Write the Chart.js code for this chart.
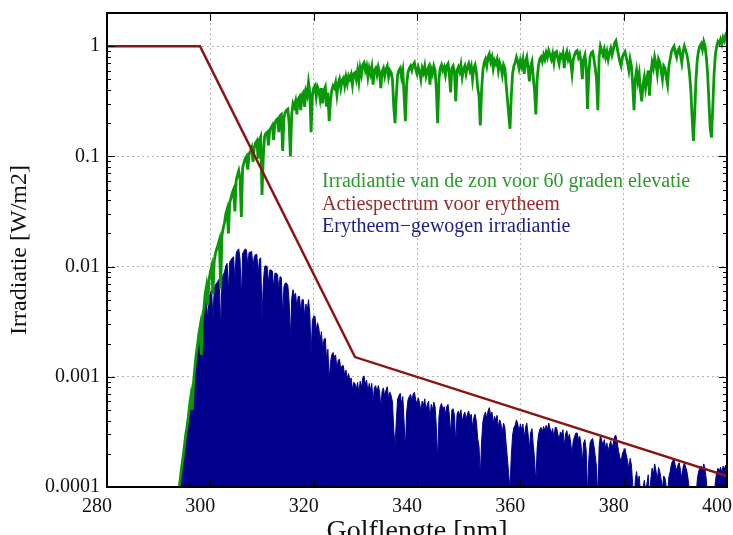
<!DOCTYPE html>
<html>
<head>
<meta charset="utf-8">
<script src="https://cdn.jsdelivr.net/npm/chart.js@4.4.1/dist/chart.umd.min.js"></script>
<style>
  html, body { margin: 0; padding: 0; background: #ffffff; }
  #wrap { width: 733px; height: 535px; position: relative; overflow: hidden; }
</style>
</head>
<body>
<div id="wrap"><canvas id="c"></canvas></div>
<script>
// Wavelength grid (nm)
const wavelength = [
  294, 294.25, 294.5, 294.75, 295, 295.25, 295.5, 295.75,
  296, 296.25, 296.5, 296.75, 297, 297.25, 297.5, 297.75,
  298, 298.25, 298.5, 298.75, 299, 299.25, 299.5, 299.75,
  300, 300.25, 300.5, 300.75, 301, 301.25, 301.5, 301.75,
  302, 302.25, 302.5, 302.75, 303, 303.25, 303.5, 303.75,
  304, 304.25, 304.5, 304.75, 305, 305.25, 305.5, 305.75,
  306, 306.25, 306.5, 306.75, 307, 307.25, 307.5, 307.75,
  308, 308.25, 308.5, 308.75, 309, 309.25, 309.5, 309.75,
  310, 310.25, 310.5, 310.75, 311, 311.25, 311.5, 311.75,
  312, 312.25, 312.5, 312.75, 313, 313.25, 313.5, 313.75,
  314, 314.25, 314.5, 314.75, 315, 315.25, 315.5, 315.75,
  316, 316.25, 316.5, 316.75, 317, 317.25, 317.5, 317.75,
  318, 318.25, 318.5, 318.75, 319, 319.25, 319.5, 319.75,
  320, 320.25, 320.5, 320.75, 321, 321.25, 321.5, 321.75,
  322, 322.25, 322.5, 322.75, 323, 323.25, 323.5, 323.75,
  324, 324.25, 324.5, 324.75, 325, 325.25, 325.5, 325.75,
  326, 326.25, 326.5, 326.75, 327, 327.25, 327.5, 327.75,
  328, 328.25, 328.5, 328.75, 329, 329.25, 329.5, 329.75,
  330, 330.25, 330.5, 330.75, 331, 331.25, 331.5, 331.75,
  332, 332.25, 332.5, 332.75, 333, 333.25, 333.5, 333.75,
  334, 334.25, 334.5, 334.75, 335, 335.25, 335.5, 335.75,
  336, 336.25, 336.5, 336.75, 337, 337.25, 337.5, 337.75,
  338, 338.25, 338.5, 338.75, 339, 339.25, 339.5, 339.75,
  340, 340.25, 340.5, 340.75, 341, 341.25, 341.5, 341.75,
  342, 342.25, 342.5, 342.75, 343, 343.25, 343.5, 343.75,
  344, 344.25, 344.5, 344.75, 345, 345.25, 345.5, 345.75,
  346, 346.25, 346.5, 346.75, 347, 347.25, 347.5, 347.75,
  348, 348.25, 348.5, 348.75, 349, 349.25, 349.5, 349.75,
  350, 350.25, 350.5, 350.75, 351, 351.25, 351.5, 351.75,
  352, 352.25, 352.5, 352.75, 353, 353.25, 353.5, 353.75,
  354, 354.25, 354.5, 354.75, 355, 355.25, 355.5, 355.75,
  356, 356.25, 356.5, 356.75, 357, 357.25, 357.5, 357.75,
  358, 358.25, 358.5, 358.75, 359, 359.25, 359.5, 359.75,
  360, 360.25, 360.5, 360.75, 361, 361.25, 361.5, 361.75,
  362, 362.25, 362.5, 362.75, 363, 363.25, 363.5, 363.75,
  364, 364.25, 364.5, 364.75, 365, 365.25, 365.5, 365.75,
  366, 366.25, 366.5, 366.75, 367, 367.25, 367.5, 367.75,
  368, 368.25, 368.5, 368.75, 369, 369.25, 369.5, 369.75,
  370, 370.25, 370.5, 370.75, 371, 371.25, 371.5, 371.75,
  372, 372.25, 372.5, 372.75, 373, 373.25, 373.5, 373.75,
  374, 374.25, 374.5, 374.75, 375, 375.25, 375.5, 375.75,
  376, 376.25, 376.5, 376.75, 377, 377.25, 377.5, 377.75,
  378, 378.25, 378.5, 378.75, 379, 379.25, 379.5, 379.75,
  380, 380.25, 380.5, 380.75, 381, 381.25, 381.5, 381.75,
  382, 382.25, 382.5, 382.75, 383, 383.25, 383.5, 383.75,
  384, 384.25, 384.5, 384.75, 385, 385.25, 385.5, 385.75,
  386, 386.25, 386.5, 386.75, 387, 387.25, 387.5, 387.75,
  388, 388.25, 388.5, 388.75, 389, 389.25, 389.5, 389.75,
  390, 390.25, 390.5, 390.75, 391, 391.25, 391.5, 391.75,
  392, 392.25, 392.5, 392.75, 393, 393.25, 393.5, 393.75,
  394, 394.25, 394.5, 394.75, 395, 395.25, 395.5, 395.75,
  396, 396.25, 396.5, 396.75, 397, 397.25, 397.5, 397.75,
  398, 398.25, 398.5, 398.75, 399, 399.25, 399.5, 399.75,
  400
];

// Solar irradiance at 60 degrees elevation (W/m2 per nm)
const irradiance = [
  1.0e-4, 1.26e-4, 1.58e-4, 1.91e-4, 2.4e-4, 3.02e-4, 3.55e-4, 4.37e-4,
  5.62e-4, 6.76e-4, 5.01e-4, 8.91e-4, 1.2e-3, 1.58e-3, 1.91e-3, 2.4e-3,
  2.82e-3, 1.58e-3, 3.55e-3, 4.17e-3, 5.62e-3, 6.61e-3, 4.47e-3, 7.59e-3,
  8.91e-3, 0.01, 5.62e-3, 0.0112, 0.0132, 0.0145, 0.0158, 0.0174,
  6.31e-3, 0.0191, 0.0224, 0.0251, 0.0302, 0.0331, 0.02, 0.038,
  0.0417, 0.0468, 0.0501, 0.0316, 0.0603, 0.0676, 0.0741, 0.0631,
  0.0282, 0.0794, 0.0871, 0.0955, 0.1, 0.0759, 0.105, 0.112,
  0.12, 0.0891, 0.12, 0.132, 0.138, 0.0955, 0.141, 0.151,
  0.0447, 0.1, 0.151, 0.162, 0.166, 0.126, 0.174, 0.182,
  0.191, 0.141, 0.2, 0.214, 0.219, 0.166, 0.234, 0.24,
  0.112, 0.224, 0.251, 0.263, 0.269, 0.2, 0.1, 0.24,
  0.302, 0.282, 0.316, 0.24, 0.331, 0.347, 0.263, 0.363,
  0.38, 0.282, 0.389, 0.355, 0.468, 0.38, 0.166, 0.355,
  0.417, 0.437, 0.347, 0.427, 0.398, 0.331, 0.417, 0.302,
  0.398, 0.427, 0.282, 0.38, 0.209, 0.316, 0.398, 0.437,
  0.417, 0.468, 0.363, 0.457, 0.501, 0.417, 0.49, 0.513,
  0.437, 0.525, 0.457, 0.537, 0.501, 0.55, 0.447, 0.562,
  0.575, 0.501, 0.603, 0.479, 0.631, 0.55, 0.676, 0.708,
  0.603, 0.661, 0.525, 0.631, 0.562, 0.646, 0.447, 0.603,
  0.631, 0.55, 0.646, 0.575, 0.417, 0.589, 0.631, 0.537,
  0.617, 0.661, 0.525, 0.603, 0.575, 0.501, 0.282, 0.2,
  0.355, 0.55, 0.603, 0.631, 0.525, 0.603, 0.355, 0.209,
  0.447, 0.575, 0.631, 0.661, 0.603, 0.676, 0.708, 0.617,
  0.562, 0.646, 0.589, 0.501, 0.631, 0.575, 0.661, 0.537,
  0.603, 0.646, 0.447, 0.617, 0.562, 0.661, 0.603, 0.398,
  0.2, 0.501, 0.631, 0.676, 0.603, 0.646, 0.55, 0.661,
  0.692, 0.562, 0.38, 0.631, 0.661, 0.575, 0.316, 0.603,
  0.646, 0.589, 0.676, 0.525, 0.617, 0.661, 0.562, 0.646,
  0.692, 0.603, 0.661, 0.501, 0.631, 0.676, 0.575, 0.417,
  0.355, 0.191, 0.398, 0.603, 0.708, 0.759, 0.661, 0.794,
  0.851, 0.724, 0.794, 0.631, 0.741, 0.692, 0.759, 0.603,
  0.708, 0.646, 0.55, 0.676, 0.631, 0.447, 0.331, 0.24,
  0.178, 0.355, 0.562, 0.661, 0.708, 0.794, 0.724, 0.631,
  0.741, 0.661, 0.759, 0.562, 0.724, 0.794, 0.631, 0.479,
  0.661, 0.724, 0.525, 0.398, 0.24, 0.501, 0.661, 0.759,
  0.794, 0.724, 0.832, 0.759, 0.871, 0.794, 0.912, 0.832,
  0.759, 0.851, 0.708, 0.871, 0.891, 0.776, 0.692, 0.832,
  0.794, 0.871, 0.631, 0.813, 0.891, 0.759, 0.832, 0.708,
  0.562, 0.759, 0.832, 0.891, 0.912, 0.794, 0.851, 0.724,
  0.501, 0.759, 0.832, 0.661, 0.269, 0.562, 0.794, 0.871,
  0.891, 0.759, 0.631, 0.501, 0.263, 0.794, 1.0, 0.912,
  0.832, 0.933, 0.794, 0.891, 0.759, 0.871, 0.955, 0.832,
  0.933, 1.07, 1.12, 0.955, 0.832, 0.724, 0.661, 0.794,
  0.851, 0.891, 0.794, 0.708, 0.603, 0.759, 0.661, 0.447,
  0.263, 0.501, 0.603, 0.479, 0.562, 0.398, 0.316, 0.447,
  0.525, 0.417, 0.501, 0.603, 0.355, 0.562, 0.708, 0.631,
  0.794, 0.692, 0.562, 0.759, 0.708, 0.603, 0.501, 0.661,
  0.631, 0.525, 0.447, 0.661, 0.759, 0.891, 0.955, 1.0,
  0.871, 0.794, 0.912, 0.955, 0.832, 0.708, 0.891, 1.0,
  0.912, 0.832, 0.708, 0.562, 0.398, 0.224, 0.138, 0.251,
  0.501, 0.759, 0.912, 1.0, 1.05, 0.933, 1.10, 1.0,
  0.794, 0.562, 0.316, 0.178, 0.148, 0.282, 0.562, 0.832,
  1.0, 1.10, 1.05, 1.15, 1.05, 1.20, 1.12, 1.26,
  1.20
];

// Erythema-weighted irradiance (W/m2 per nm)
const weighted = [
  1.0e-4, 1.26e-4, 1.58e-4, 1.91e-4, 2.4e-4, 3.02e-4, 3.55e-4, 4.37e-4,
  5.62e-4, 6.76e-4, 5.01e-4, 8.91e-4, 1.2e-3, 1.58e-3, 1.91e-3, 2.4e-3,
  2.82e-3, 1.51e-3, 3.16e-3, 3.55e-3, 4.57e-3, 5.01e-3, 3.24e-3, 5.25e-3,
  5.75e-3, 6.17e-3, 3.24e-3, 6.17e-3, 6.92e-3, 7.08e-3, 7.41e-3, 7.76e-3,
  2.63e-3, 7.59e-3, 8.51e-3, 8.91e-3, 0.0102, 0.0107, 6.03e-3, 0.011,
  0.0115, 0.012, 0.0123, 7.41e-3, 0.0132, 0.0141, 0.0145, 0.0117,
  5.01e-3, 0.0132, 0.0138, 0.0145, 0.0141, 0.0102, 0.0135, 0.0135,
  0.0138, 9.77e-3, 0.0123, 0.0129, 0.0129, 8.32e-3, 0.0117, 0.012,
  3.31e-3, 7.08e-3, 0.01, 0.0102, 0.01, 7.08e-3, 9.33e-3, 9.33e-3,
  9.12e-3, 6.46e-3, 8.71e-3, 8.71e-3, 8.51e-3, 6.17e-3, 8.13e-3, 7.94e-3,
  3.55e-3, 6.61e-3, 7.08e-3, 7.08e-3, 6.76e-3, 4.79e-3, 2.24e-3, 5.13e-3,
  6.17e-3, 5.37e-3, 5.75e-3, 4.17e-3, 5.37e-3, 5.37e-3, 3.89e-3, 5.01e-3,
  5.01e-3, 3.55e-3, 4.57e-3, 3.98e-3, 5.01e-3, 3.8e-3, 1.58e-3, 3.24e-3,
  3.55e-3, 3.55e-3, 2.63e-3, 3.09e-3, 2.75e-3, 2.14e-3, 2.57e-3, 1.78e-3,
  2.19e-3, 2.24e-3, 1.41e-3, 1.78e-3, 9.33e-4, 1.35e-3, 1.58e-3, 1.66e-3,
  1.51e-3, 1.58e-3, 1.17e-3, 1.41e-3, 1.45e-3, 1.15e-3, 1.26e-3, 1.26e-3,
  1.02e-3, 1.15e-3, 9.55e-4, 1.07e-3, 9.33e-4, 9.77e-4, 7.59e-4, 8.91e-4,
  8.71e-4, 7.59e-4, 8.91e-4, 7.08e-4, 9.12e-4, 7.94e-4, 9.77e-4, 1.02e-3,
  8.51e-4, 9.33e-4, 7.24e-4, 8.71e-4, 7.59e-4, 8.71e-4, 6.03e-4, 7.94e-4,
  8.32e-4, 7.24e-4, 8.32e-4, 7.41e-4, 5.25e-4, 7.41e-4, 7.94e-4, 6.61e-4,
  7.59e-4, 8.13e-4, 6.31e-4, 7.24e-4, 6.76e-4, 5.89e-4, 3.31e-4, 2.29e-4,
  4.07e-4, 6.31e-4, 6.76e-4, 7.08e-4, 5.75e-4, 6.61e-4, 3.89e-4, 2.24e-4,
  4.79e-4, 6.17e-4, 6.61e-4, 6.92e-4, 6.17e-4, 6.92e-4, 7.24e-4, 6.17e-4,
  5.62e-4, 6.46e-4, 5.75e-4, 4.9e-4, 6.03e-4, 5.5e-4, 6.31e-4, 5.01e-4,
  5.62e-4, 6.03e-4, 4.07e-4, 5.62e-4, 5.01e-4, 5.89e-4, 5.37e-4, 3.47e-4,
  1.74e-4, 4.37e-4, 5.37e-4, 5.75e-4, 5.01e-4, 5.37e-4, 4.57e-4, 5.37e-4,
  5.62e-4, 4.57e-4, 3.02e-4, 5.01e-4, 5.13e-4, 4.47e-4, 2.45e-4, 4.57e-4,
  4.9e-4, 4.47e-4, 5.01e-4, 3.89e-4, 4.47e-4, 4.79e-4, 4.07e-4, 4.57e-4,
  4.9e-4, 4.27e-4, 4.57e-4, 3.47e-4, 4.27e-4, 4.57e-4, 3.89e-4, 2.75e-4,
  2.34e-4, 1.26e-4, 2.57e-4, 3.89e-4, 4.47e-4, 4.79e-4, 4.17e-4, 4.9e-4,
  5.25e-4, 4.47e-4, 4.79e-4, 3.8e-4, 4.37e-4, 4.07e-4, 4.47e-4, 3.47e-4,
  4.07e-4, 3.72e-4, 3.09e-4, 3.8e-4, 3.47e-4, 2.45e-4, 1.82e-4, 1.29e-4,
  9.55e-5, 1.91e-4, 2.95e-4, 3.47e-4, 3.63e-4, 4.07e-4, 3.72e-4, 3.16e-4,
  3.72e-4, 3.31e-4, 3.72e-4, 2.75e-4, 3.47e-4, 3.8e-4, 3.02e-4, 2.24e-4,
  3.09e-4, 3.39e-4, 2.4e-4, 1.82e-4, 1.07e-4, 2.24e-4, 2.95e-4, 3.31e-4,
  3.47e-4, 3.16e-4, 3.55e-4, 3.24e-4, 3.63e-4, 3.31e-4, 3.8e-4, 3.39e-4,
  3.09e-4, 3.39e-4, 2.82e-4, 3.47e-4, 3.47e-4, 3.02e-4, 2.69e-4, 3.16e-4,
  3.02e-4, 3.31e-4, 2.34e-4, 3.02e-4, 3.24e-4, 2.75e-4, 3.02e-4, 2.51e-4,
  2.0e-4, 2.63e-4, 2.88e-4, 3.09e-4, 3.09e-4, 2.69e-4, 2.88e-4, 2.4e-4,
  1.66e-4, 2.51e-4, 2.69e-4, 2.14e-4, 8.51e-5, 1.78e-4, 2.51e-4, 2.69e-4,
  2.75e-4, 2.34e-4, 1.91e-4, 1.51e-4, 7.76e-5, 2.34e-4, 2.95e-4, 2.63e-4,
  2.4e-4, 2.69e-4, 2.24e-4, 2.51e-4, 2.09e-4, 2.4e-4, 2.63e-4, 2.24e-4,
  2.51e-4, 2.88e-4, 2.95e-4, 2.51e-4, 2.14e-4, 1.86e-4, 1.7e-4, 2.0e-4,
  2.14e-4, 2.24e-4, 1.95e-4, 1.74e-4, 1.45e-4, 1.82e-4, 1.58e-4, 1.05e-4,
  6.17e-5, 1.17e-4, 1.38e-4, 1.1e-4, 1.26e-4, 8.91e-5, 7.08e-5, 9.77e-5,
  1.15e-4, 9.12e-5, 1.07e-4, 1.29e-4, 7.41e-5, 1.17e-4, 1.48e-4, 1.29e-4,
  1.62e-4, 1.41e-4, 1.12e-4, 1.51e-4, 1.38e-4, 1.17e-4, 9.77e-5, 1.26e-4,
  1.2e-4, 1.0e-4, 8.32e-5, 1.23e-4, 1.38e-4, 1.62e-4, 1.74e-4, 1.78e-4,
  1.55e-4, 1.41e-4, 1.58e-4, 1.66e-4, 1.41e-4, 1.2e-4, 1.51e-4, 1.66e-4,
  1.51e-4, 1.38e-4, 1.15e-4, 9.12e-5, 6.31e-5, 3.55e-5, 2.19e-5, 3.89e-5,
  7.76e-5, 1.17e-4, 1.38e-4, 1.51e-4, 1.55e-4, 1.38e-4, 1.62e-4, 1.45e-4,
  1.15e-4, 8.13e-5, 4.47e-5, 2.51e-5, 2.04e-5, 3.89e-5, 7.76e-5, 1.12e-4,
  1.35e-4, 1.48e-4, 1.38e-4, 1.51e-4, 1.35e-4, 1.55e-4, 1.45e-4, 1.58e-4,
  1.51e-4
];

// Erythema action spectrum: corner points of the piecewise curve
const actionWavelength = [280, 298, 328, 400];
const actionValue = [1, 1, 0.00151, 0.000126];

// Axis ticks
const xTickValues = [280, 300, 320, 340, 360, 380, 400];
const yTickValues = [0.0001, 0.001, 0.01, 0.1, 1];
const yTickLabels = ['0.0001', '0.001', '0.01', '0.1', '1'];

// Legend texts and colours
const seriesNames = [
  'Irradiantie van de zon voor 60 graden elevatie',
  'Actiespectrum voor erytheem',
  'Erytheem\u2212gewogen irradiantie'
];
const lineColors = ['#089808', '#8a1414', '#00008c'];
const textColors = ['#2a9a2a', '#9a2a2a', '#1c1c8a'];

const SERIF = "'Liberation Serif', 'DejaVu Serif', serif";

function toPoints(xs, ys) {
  return xs.map((x, i) => ({ x: x, y: ys[i] }));
}

// Frame, inward tick marks and the in-plot legend
const decorations = {
  id: 'decorations',
  afterDraw(chart) {
    const { ctx, chartArea: a, scales } = chart;
    const xs = scales.x, ys = scales.y;
    ctx.save();
    ctx.strokeStyle = '#000';
    ctx.lineWidth = 1;
    ctx.beginPath();
    xTickValues.forEach(v => {
      const px = Math.round(xs.getPixelForValue(v)) + 0.5;
      ctx.moveTo(px, a.bottom); ctx.lineTo(px, a.bottom - 8);
      ctx.moveTo(px, a.top); ctx.lineTo(px, a.top + 8);
    });
    yTickValues.forEach(v => {
      const py = Math.round(ys.getPixelForValue(v)) + 0.5;
      ctx.moveTo(a.left, py); ctx.lineTo(a.left + 8, py);
      ctx.moveTo(a.right, py); ctx.lineTo(a.right - 8, py);
      for (let m = 2; m <= 9; m++) {
        const mv = v * m;
        if (mv > ys.max) break;
        const my = Math.round(ys.getPixelForValue(mv)) + 0.5;
        ctx.moveTo(a.left, my); ctx.lineTo(a.left + 4, my);
        ctx.moveTo(a.right, my); ctx.lineTo(a.right - 4, my);
      }
    });
    ctx.stroke();
    ctx.lineWidth = 2;
    ctx.strokeRect(a.left, a.top, a.right - a.left, a.bottom - a.top);
    ctx.font = '20px ' + SERIF;
    ctx.textBaseline = 'middle';
    ctx.textAlign = 'left';
    seriesNames.forEach((t, i) => {
      ctx.fillStyle = textColors[i];
      ctx.fillText(t, 322, 182 + i * 22.3);
    });
    ctx.restore();
  }
};

const gridColor = (ctx) => {
  const v = ctx.tick && ctx.tick.value;
  const s = ctx.scale;
  if (v === s.min || v === s.max) return 'rgba(0,0,0,0)';
  return '#b4b4b4';
};

new Chart(document.getElementById('c'), {
  type: 'line',
  data: {
    datasets: [
      {
        label: seriesNames[1],
        data: toPoints(actionWavelength, actionValue),
        borderColor: lineColors[1],
        borderWidth: 2.5,
        pointRadius: 0,
        fill: false,
        order: 0
      },
      {
        label: seriesNames[0],
        data: toPoints(wavelength, irradiance),
        borderColor: lineColors[0],
        borderWidth: 2.8,
        pointRadius: 0,
        fill: false,
        order: 1
      },
      {
        label: seriesNames[2],
        data: toPoints(wavelength, weighted),
        borderColor: lineColors[2],
        backgroundColor: lineColors[2],
        borderWidth: 1,
        pointRadius: 0,
        fill: 'start',
        order: 2
      }
    ]
  },
  options: {
    responsive: true,
    maintainAspectRatio: false,
    animation: false,
    events: [],
    layout: { padding: { top: 13, right: 6, left: 0, bottom: 0 } },
    plugins: { legend: { display: false }, tooltip: { enabled: false } },
    scales: {
      x: {
        type: 'linear',
        min: 280,
        max: 400,
        afterBuildTicks: (s) => { s.ticks = xTickValues.map(v => ({ value: v })); },
        afterFit: (s) => { s.height = 48; s.paddingLeft = 0; s.paddingRight = 0; },
        grid: { color: gridColor, lineWidth: 1, drawTicks: false },
        border: { display: false, dash: [2, 3] },
        ticks: {
          font: { family: SERIF, size: 20 },
          color: '#111',
          padding: 8,
          labelOffset: -10,
          maxRotation: 0,
          autoSkip: false,
          callback: (v) => String(v)
        },
        title: {
          display: true,
          text: 'Golflengte [nm]',
          font: { family: SERIF, size: 28 },
          color: '#111',
          padding: { top: 0, bottom: -13 }
        }
      },
      y: {
        type: 'logarithmic',
        min: 0.0001,
        max: 2,
        afterBuildTicks: (s) => { s.ticks = yTickValues.map(v => ({ value: v })); },
        afterFit: (s) => { s.width = 107; s.paddingTop = 0; s.paddingBottom = 0; },
        grid: { color: gridColor, lineWidth: 1, drawTicks: false },
        border: { display: false, dash: [2, 3] },
        ticks: {
          font: { family: SERIF, size: 20 },
          color: '#111',
          padding: 7,
          autoSkip: false,
          callback: (v) => {
            const i = yTickValues.indexOf(v);
            return i >= 0 ? yTickLabels[i] : '';
          }
        },
        title: {
          display: true,
          text: 'Irradiatie [W/m2]',
          font: { family: SERIF, size: 24 },
          color: '#111',
          padding: { top: 5, bottom: 0 }
        }
      }
    }
  },
  plugins: [decorations]
});
</script>
</body>
</html>
